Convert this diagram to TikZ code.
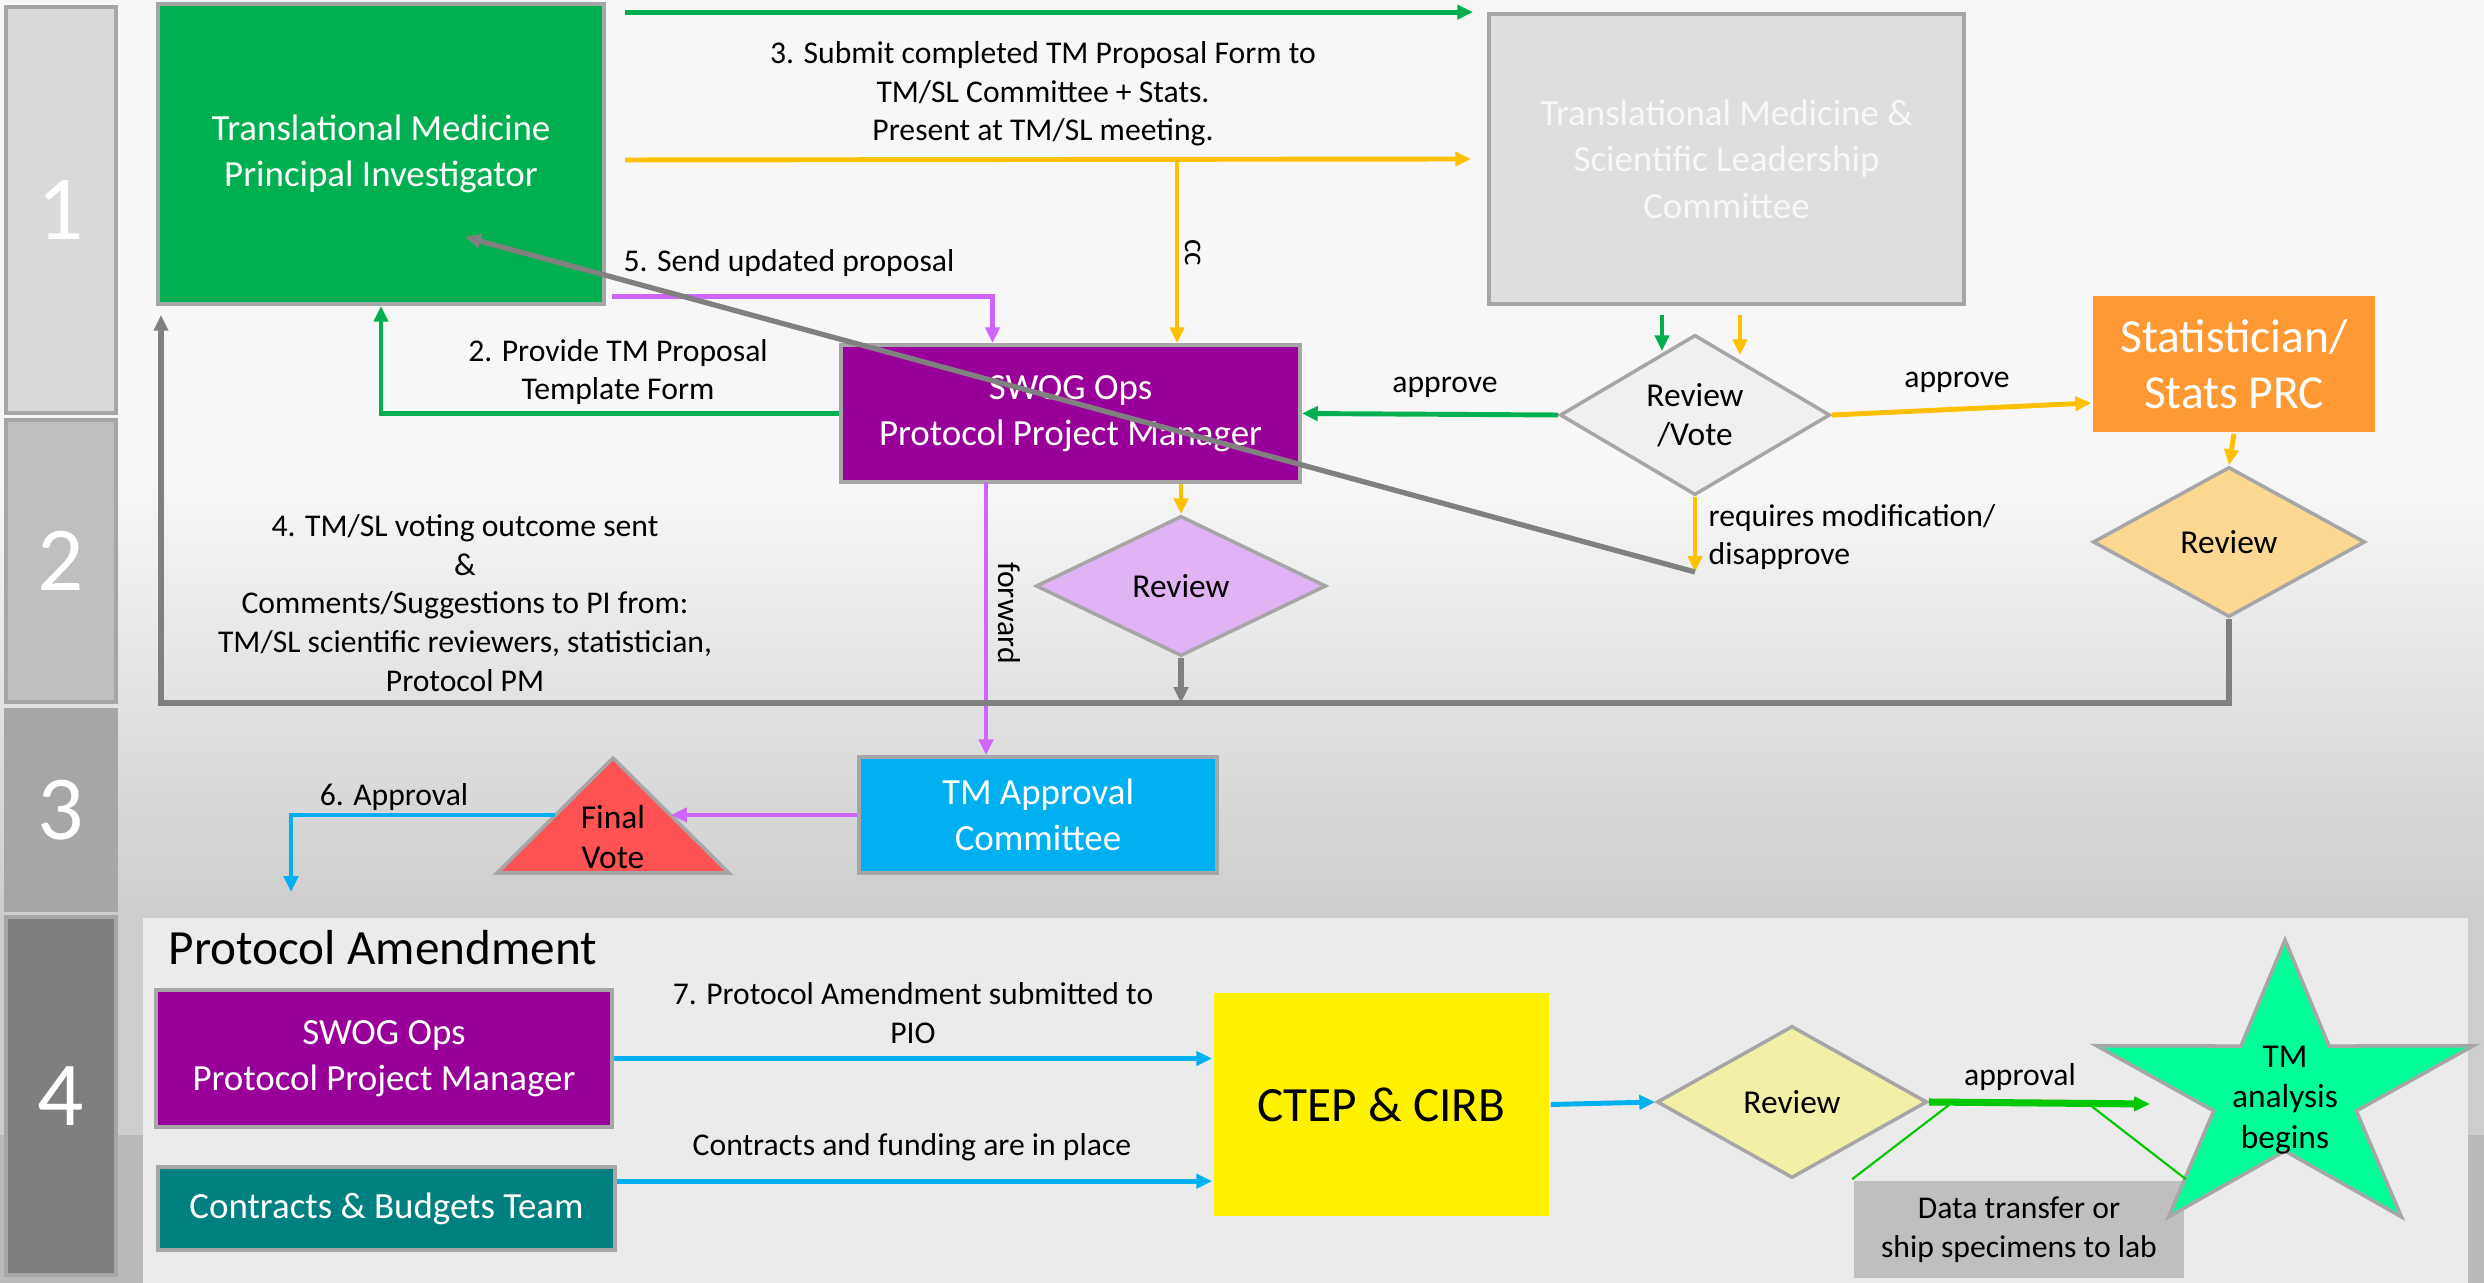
\documentclass[tikz,border=0pt]{standalone}
\usepackage{fontspec}
\setmainfont{Carlito}
\usetikzlibrary{shapes.geometric,arrows.meta,calc}

\definecolor{bgtop}{HTML}{F7F7F7}
\definecolor{bgmid}{HTML}{CDCDCD}
\definecolor{bglow}{HTML}{B9B9B9}
\definecolor{panel}{HTML}{EBEBEB}
\definecolor{edgegray}{HTML}{A6A6A6}
\definecolor{laneA}{HTML}{D9D9D9}
\definecolor{laneB}{HTML}{BFBFBF}
\definecolor{laneC}{HTML}{A6A6A6}
\definecolor{laneD}{HTML}{7F7F7F}
\definecolor{pigreen}{HTML}{00B050}
\definecolor{tmslgray}{HTML}{DEDEDE}
\definecolor{tmsltext}{HTML}{F8F8F8}
\definecolor{swog}{HTML}{990099}
\definecolor{votegray}{HTML}{F0F0F0}
\definecolor{statorange}{HTML}{FF9933}
\definecolor{statreview}{HTML}{FDD893}
\definecolor{lilac}{HTML}{E0B3F5}
\definecolor{lilacline}{HTML}{CC66FF}
\definecolor{tmblue}{HTML}{00B0F0}
\definecolor{votered}{HTML}{FF5353}
\definecolor{budgetteal}{HTML}{008080}
\definecolor{paleyellow}{HTML}{F2F0A6}
\definecolor{datagray}{HTML}{BFBFBF}
\definecolor{stargreen}{HTML}{00FF99}
\definecolor{amber}{HTML}{FFC000}
\definecolor{retgray}{HTML}{808080}
\definecolor{brightgreen}{HTML}{00C800}

\tikzset{
  box/.style={draw=edgegray, line width=1pt, inner sep=0pt, align=center, text=white,
    font=\fontsize{10.5}{13.2}\selectfont},
  dia/.style={diamond, box, text=black, font=\fontsize{9.5}{11}\selectfont},
  lbl/.style={align=center, inner sep=0pt, font=\fontsize{9}{11}\selectfont},
  lane/.style={draw=edgegray, fill=#1, line width=1pt, minimum width=1.1cm, inner sep=0pt,
    text=white, font=\fontsize{26}{30}\selectfont},
  flow/.style={line width=1.4pt, -{Triangle[length=4.5pt,width=4pt]}},
}

\begin{document}
\begin{tikzpicture}[x=0.01cm, y=-0.01cm]
  \useasboundingbox (0,0) rectangle (2484,1283);

  % background
  \fill[bgtop] (0,0) rectangle (2484,480);
  \shade[top color=bgtop, bottom color=bgmid] (0,480) rectangle (2484,918);
  \fill[bgmid] (0,918) rectangle (2484,1135);
  \fill[bglow] (0,1135) rectangle (2484,1283);
  \fill[panel] (143,918) rectangle (2468,1283);

  \node[lane=laneA, minimum height=4.06cm] (l1) at (61,210) {1};
  \node[lane=laneB, minimum height=2.82cm] (l2) at (61,561) {2};
  \node[lane=laneC, minimum height=2.00cm] (l3) at (61,810) {3};
  \node[lane=laneD, minimum height=3.58cm] (l4) at (61,1096) {4};

  % boxes
  \node[box, fill=pigreen, minimum width=4.46cm, minimum height=3cm] (pi) at (381,154)
    {Translational Medicine\\Principal Investigator};
  \node[box, fill=tmslgray, text=tmsltext, minimum width=4.75cm, minimum height=2.9cm] (tmsl) at (1726.5,159)
    {Translational Medicine \&\\Scientific Leadership\\Committee};
  \node[box, fill=swog, minimum width=4.59cm, minimum height=1.37cm] (ppm) at (1070.5,413.5)
    {SWOG Ops\\Protocol Project Manager};
  \node[dia, fill=votegray, minimum width=2.7cm, minimum height=1.5cm] (rv) at (1695,415) {Review\\/Vote};
  \node[box, draw=none, fill=statorange, minimum width=2.82cm, minimum height=1.36cm,
    font=\fontsize{13.5}{16}\selectfont] (stats) at (2234,364) {Statistician/\\Stats PRC};
  \node[dia, fill=statreview, minimum width=2.72cm, minimum height=1.5cm] (rs) at (2229,542) {Review};
  \node[dia, fill=lilac, minimum width=2.9cm, minimum height=1.4cm] (pr) at (1181,586) {Review};
  \node[box, fill=tmblue, minimum width=3.58cm, minimum height=1.16cm] (tma) at (1038,815)
    {TM Approval\\Committee};

  \draw[draw=edgegray, line width=1pt, fill=votered] (613,758) -- (729,873) -- (497,873) -- cycle;
  \node[lbl, font=\fontsize{9.5}{11.5}\selectfont] (fv) at (613,837) {Final\\Vote};
  \coordinate (fvr) at (671,815);
  \coordinate (fvl) at (555,815);

  % Protocol Amendment
  \node[lbl, font=\fontsize{14}{17}\selectfont, anchor=west] (amend) at (168,948) {Protocol Amendment};
  \node[box, fill=swog, minimum width=4.56cm, minimum height=1.37cm] (ppm2) at (384,1058.5)
    {SWOG Ops\\Protocol Project Manager};
  \node[box, fill=budgetteal, minimum width=4.57cm, minimum height=0.83cm] (cbt) at (386.5,1208.5)
    {Contracts \& Budgets Team};
  \node[box, draw=none, fill=yellow, text=black, minimum width=3.35cm, minimum height=2.23cm,
    font=\fontsize{14}{17}\selectfont] (ctep) at (1381.5,1104.5) {CTEP \& CIRB};
  \node[dia, fill=paleyellow, minimum width=2.7cm, minimum height=1.52cm] (yr) at (1792,1102) {Review};
  \node[box, draw=none, fill=datagray, text=black, minimum width=3.3cm, minimum height=0.97cm,
    font=\fontsize{9}{11}\selectfont] (db) at (2019,1229.5) {Data transfer or\\ship specimens to lab};
  \begin{scope}[shift={(2285,1093)}]
    \draw[draw=edgegray, line width=1pt, fill=stargreen] (-90:{198} and {153})
      \foreach \k [evaluate=\k as \rx using {isodd(\k)?75:198},
                   evaluate=\k as \ry using {isodd(\k)?58:153}] in {1,...,9} {
        -- ({-90+36*\k}:{\rx} and {\ry}) } -- cycle;
  \end{scope}
  \node[lbl, font=\fontsize{9.5}{11.5}\selectfont] (tmstar) at (2285,1100) {TM\\analysis\\begins};

  % connectors
  \draw[flow, draw=pigreen] ($(pi.east |- tmsl.north)+(19,0)$) -- ($(tmsl.north west)+(-14,0)$);
  \draw[flow, draw=amber] ($(pi.east)+(19,6)$) -- ($(tmsl.west)+(-16,0)$);
  \coordinate (cc) at (1177,160);
  \draw[flow, draw=amber] (cc) -- (cc |- ppm.north);
  \draw[flow, draw=lilacline] ($(pi.south east)+(6,-9)$) -| ($(ppm.north)+(-78,0)$);
  \draw[flow, draw=pigreen] (ppm.west) -| (pi.south);
  \draw[flow, draw=pigreen] (rv.west) -- (ppm.east);
  \draw[flow, draw=pigreen] ($(rv.north |- tmsl.south)+(-33,9)$) -- ($(rv.north)+(-33,18)$);
  \draw[flow, draw=amber] ($(rv.north |- tmsl.south)+(45,9)$) -- ($(rv.north)+(45,22)$);
  \draw[flow, draw=amber] (rv.east) -- ($(stats.west)+(0,39)$);
  \draw[flow, draw=amber] (stats.south) -- (rs.north);
  \coordinate (mod) at (1695,572);
  \coordinate (piin) at (465,237);
  \draw[flow, draw=amber] (rv.south) -- (mod);
  \draw[flow, draw=amber] (pr.north |- ppm.south) -- (pr.north);
  \coordinate (fw) at (986,482);
  \draw[flow, draw=lilacline] (fw) -- (fw |- tma.north);
  \coordinate (back) at (161,703);
  \draw[flow, draw=retgray, line width=1.5pt] (rs.south) |- (back) -- ($(back |- pi.south)+(0,9)$);
  \draw[flow, draw=retgray, line width=1.5pt] (pr.south) -- (pr.south |- back);
  \draw[flow, draw=retgray, line width=1.5pt] (mod) -- (piin);
  \draw[flow, draw=lilacline] (tma.west) -- (fvr);
  \coordinate (apv) at (291,892);
  \draw[flow, draw=tmblue] (fvl) -| (apv);

  \draw[flow, draw=tmblue] (ppm2.east) -- (ppm2.east -| ctep.west);
  \draw[flow, draw=tmblue] ($(cbt.north east)+(0,16)$) -- ($(cbt.north east -| ctep.west)+(0,16)$);
  \draw[flow, draw=tmblue] (ctep.east) -- (yr.west);
  \coordinate (stp) at (2150,1104);
  \draw[flow, draw=brightgreen, line width=2pt] (yr.east) -- (stp);
  \coordinate (cl) at (1949,1105);
  \coordinate (cr) at (2090,1105);
  \draw[brightgreen, line width=0.6pt] (cl) -- (db.north west);
  \draw[brightgreen, line width=0.6pt] (cr) -- (db.north east);

  % labels
  \node[lbl] (t3) at (1043,94) {3. Submit completed TM Proposal Form to\\TM/SL Committee + Stats.\\Present at TM/SL meeting.};
  \node[lbl, rotate=-90] (tcc) at (1193,253) {cc};
  \node[lbl] (t5) at (789,263) {5. Send updated proposal};
  \node[lbl] (t2) at (618,372) {2. Provide TM Proposal\\Template Form};
  \node[lbl] (tap1) at (1445,387) {approve};
  \node[lbl] (tap2) at (1957,382) {approve};
  \node[lbl, align=left, anchor=west] (tmod) at (1708,537) {requires modification/\\disapprove};
  \node[lbl, rotate=-90] (tfw) at (1009,613) {forward};
  \node[lbl] (t4) at (465,603) {4. TM/SL voting outcome sent\\\&\\Comments/Suggestions to PI from:\\TM/SL scientific reviewers, statistician,\\Protocol PM};
  \node[lbl] (t6) at (394,797) {6. Approval};
  \node[lbl] (t7) at (913,1013) {7. Protocol Amendment submitted to\\PIO};
  \node[lbl] (tcf) at (912,1147) {Contracts and funding are in place};
  \node[lbl] (tapl) at (2020,1077) {approval};
\end{tikzpicture}
\end{document}
